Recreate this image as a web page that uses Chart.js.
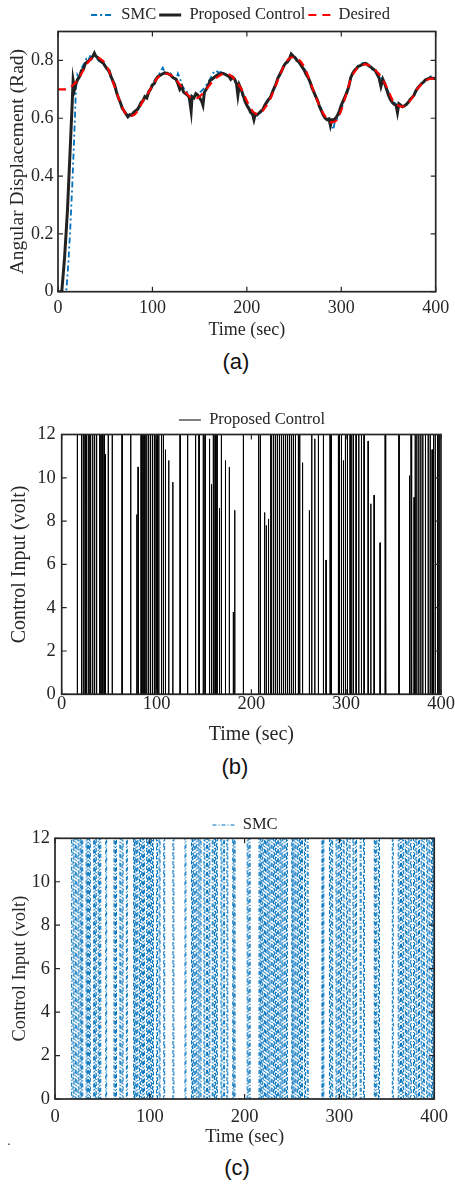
<!DOCTYPE html>
<html>
<head>
<meta charset="utf-8">
<script src="https://cdn.jsdelivr.net/npm/chart.js@4.4.0/dist/chart.umd.min.js"></script>
<style>
  body { margin: 0; width: 455px; height: 1186px; background: #fff; position: relative; overflow: hidden; }
  canvas { position: absolute; left: 0; }
  .cap { position: absolute; width: 100px; text-align: center; line-height: 26px;
         font-family: 'Liberation Sans', Arial, sans-serif; font-size: 22px; color: #111; }
</style>
</head>
<body>
<canvas id="chartA" width="455" height="345" style="top:0px"></canvas>
<div class="cap" style="left:186px;top:349px">(a)</div>
<canvas id="chartB" width="455" height="370" style="top:380px"></canvas>
<div class="cap" style="left:185px;top:754px">(b)</div>
<canvas id="chartC" width="455" height="370" style="top:780px"></canvas>
<div class="cap" style="left:-41px;top:1128px;font-size:12px">.</div>
<div class="cap" style="left:187px;top:1155px">(c)</div>

<script>
/* ---------- data ---------- */
const timeTicks = [0, 100, 200, 300, 400];
const angleTicks = [0, 0.2, 0.4, 0.6, 0.8];
const voltTicks = [0, 2, 4, 6, 8, 10, 12];

// (a) desired trajectory
const desiredTime = [
  0, 5, 10, 15, 20, 25, 30, 35, 40, 45,
  50, 55, 60, 65, 70, 75, 80, 85, 90, 95,
  100, 105, 110, 115, 120, 125, 130, 135, 140, 145,
  150, 155, 160, 165, 170, 175, 180, 185, 190, 195,
  200, 205, 210, 215, 220, 225, 230, 235, 240, 245,
  250, 255, 260, 265, 270, 275, 280, 285, 290, 295,
  300, 305, 310, 315, 320, 325, 330, 335, 340, 345,
  350, 355, 360, 365, 370, 375, 380, 385, 390, 395,
  400
];
const desiredAngle = [
  0.700, 0.700, 0.700, 0.712, 0.728, 0.755, 0.785, 0.805, 0.812, 0.805,
  0.790, 0.755, 0.708, 0.663, 0.625, 0.608, 0.610, 0.628, 0.660, 0.685,
  0.712, 0.738, 0.750, 0.754, 0.748, 0.733, 0.712, 0.690, 0.673, 0.667,
  0.675, 0.692, 0.712, 0.732, 0.745, 0.753, 0.752, 0.742, 0.722, 0.696,
  0.660, 0.630, 0.615, 0.620, 0.640, 0.668, 0.708, 0.750, 0.785, 0.807,
  0.811, 0.803, 0.782, 0.745, 0.700, 0.658, 0.622, 0.598, 0.586, 0.593,
  0.628, 0.680, 0.735, 0.765, 0.780, 0.786, 0.782, 0.770, 0.752, 0.728,
  0.695, 0.658, 0.645, 0.640, 0.650, 0.670, 0.698, 0.718, 0.731, 0.737,
  0.737
];

// (a) proposed control response
const propTime = [
  0, 4, 7, 10, 13, 15, 16, 17.5, 19, 21,
  23, 25, 27, 29, 31, 33, 35, 37, 38.5, 40,
  42, 44, 46, 48, 50, 52, 54, 56, 58, 60,
  62, 64, 66, 68, 70, 72, 74, 76, 78, 80,
  82, 84, 86, 88, 90, 92, 94, 96, 98, 100,
  102, 104, 106, 108, 110, 113, 116, 119, 122, 125,
  127, 129, 131, 133, 135, 137, 139, 141, 142, 144,
  146, 148, 150, 152, 153.5, 155, 157, 159, 161, 163,
  165, 167, 169, 171, 173, 175, 177, 179, 181, 183,
  185, 187, 189, 190.5, 192, 194, 196, 198, 200, 202,
  204, 206, 207.5, 209, 211, 213, 215, 217, 219, 221,
  223, 225, 227, 229, 231, 233, 235, 237, 239, 241,
  243, 245, 247, 249, 251, 253, 255, 257, 259, 261,
  263, 265, 267, 269, 271, 273, 275, 277, 279, 281,
  283, 285, 287, 288.5, 290, 292, 294, 296, 298, 300,
  302, 304, 306, 308, 310, 312, 314, 316, 318, 320,
  322, 324, 326, 328, 330, 332, 334, 336, 338, 340,
  342, 344, 346, 348, 350, 352, 354, 356, 358, 359.5,
  361, 363, 365, 367, 369, 371, 373, 375, 377, 379,
  381, 383, 385, 387, 389, 391, 393, 395, 397, 400
];
const propAngle = [
  0, 0, 0.12, 0.28, 0.50, 0.65, 0.73, 0.70, 0.72, 0.735,
  0.745, 0.765, 0.77, 0.79, 0.795, 0.80, 0.805, 0.815, 0.825, 0.815,
  0.81, 0.80, 0.795, 0.79, 0.78, 0.77, 0.765, 0.745, 0.73, 0.715,
  0.69, 0.67, 0.655, 0.635, 0.625, 0.615, 0.605, 0.612, 0.61, 0.62,
  0.625, 0.63, 0.64, 0.655, 0.66, 0.675, 0.67, 0.69, 0.70, 0.715,
  0.72, 0.735, 0.745, 0.748, 0.752, 0.757, 0.755, 0.75, 0.74, 0.735,
  0.72, 0.70, 0.71, 0.69, 0.685, 0.68, 0.672, 0.625, 0.675, 0.67,
  0.685, 0.68, 0.67, 0.66, 0.645, 0.69, 0.70, 0.712, 0.73, 0.735,
  0.74, 0.745, 0.75, 0.752, 0.755, 0.755, 0.752, 0.748, 0.745, 0.735,
  0.742, 0.735, 0.72, 0.68, 0.715, 0.70, 0.68, 0.66, 0.645, 0.635,
  0.62, 0.615, 0.595, 0.615, 0.612, 0.618, 0.625, 0.63, 0.645, 0.655,
  0.665, 0.672, 0.69, 0.705, 0.72, 0.74, 0.752, 0.765, 0.78, 0.79,
  0.795, 0.805, 0.822, 0.815, 0.81, 0.80, 0.795, 0.785, 0.775, 0.765,
  0.75, 0.74, 0.725, 0.705, 0.69, 0.675, 0.66, 0.64, 0.625, 0.61,
  0.60, 0.595, 0.598, 0.575, 0.595, 0.595, 0.60, 0.61, 0.625, 0.645,
  0.66, 0.675, 0.69, 0.71, 0.74, 0.755, 0.765, 0.772, 0.78, 0.782,
  0.785, 0.788, 0.79, 0.785, 0.78, 0.775, 0.77, 0.765, 0.752, 0.74,
  0.71, 0.735, 0.72, 0.70, 0.68, 0.665, 0.655, 0.648, 0.645, 0.62,
  0.65, 0.645, 0.64, 0.643, 0.648, 0.655, 0.665, 0.672, 0.68, 0.695,
  0.705, 0.712, 0.72, 0.725, 0.732, 0.735, 0.738, 0.74, 0.738, 0.737
];

// (a) SMC response
const smcTime = [
  0, 8, 9, 11, 13, 15, 17, 19, 20.5, 22,
  24, 26, 28, 30, 32, 34, 36, 38, 40, 43,
  46, 49, 52, 55, 58, 61, 64, 67, 70, 73,
  76, 79, 82, 85, 88, 91, 94, 97, 100, 103,
  106, 109, 111, 113, 116, 119, 122, 125, 127, 129,
  131, 134, 137, 140, 143, 146, 149, 152, 155, 158,
  161, 164, 167, 170, 173, 176, 179, 182, 185, 188,
  191, 194, 197, 200, 203, 206, 209, 212, 215, 218,
  221, 224, 227, 230, 233, 236, 239, 242, 245, 248,
  251, 254, 257, 260, 263, 266, 269, 272, 275, 278,
  281, 284, 287, 290, 291.5, 293, 296, 299, 302, 305,
  308, 311, 314, 317, 320, 323, 326, 329, 332, 335,
  338, 341, 344, 347, 350, 353, 356, 359, 362, 365,
  368, 371, 374, 377, 380, 383, 386, 389, 392, 395,
  398, 400
];
const smcAngle = [
  0, 0, 0.01, 0.10, 0.22, 0.36, 0.52, 0.70, 0.75, 0.74,
  0.76, 0.78, 0.79, 0.805, 0.80, 0.815, 0.81, 0.82, 0.81, 0.80,
  0.795, 0.785, 0.77, 0.75, 0.725, 0.70, 0.67, 0.645, 0.625, 0.615,
  0.605, 0.615, 0.62, 0.63, 0.648, 0.66, 0.68, 0.70, 0.72, 0.735,
  0.745, 0.765, 0.775, 0.76, 0.752, 0.755, 0.74, 0.73, 0.755, 0.74,
  0.715, 0.70, 0.69, 0.675, 0.67, 0.672, 0.685, 0.695, 0.705, 0.72,
  0.735, 0.755, 0.765, 0.758, 0.76, 0.755, 0.75, 0.745, 0.74, 0.725,
  0.71, 0.69, 0.665, 0.64, 0.625, 0.61, 0.605, 0.615, 0.62, 0.64,
  0.655, 0.67, 0.69, 0.71, 0.735, 0.755, 0.775, 0.795, 0.81, 0.815,
  0.81, 0.80, 0.79, 0.775, 0.76, 0.735, 0.71, 0.685, 0.66, 0.64,
  0.615, 0.60, 0.59, 0.575, 0.56, 0.585, 0.60, 0.62, 0.65, 0.685,
  0.715, 0.745, 0.765, 0.775, 0.782, 0.792, 0.79, 0.78, 0.77, 0.765,
  0.765, 0.75, 0.73, 0.71, 0.69, 0.67, 0.655, 0.645, 0.64, 0.64,
  0.648, 0.655, 0.665, 0.68, 0.695, 0.71, 0.722, 0.73, 0.742, 0.745,
  0.74, 0.735
];

// (b) proposed control input: switching instants and peak voltage
const propPulseTime = [
  16.3, 20.7, 22.5, 24.3, 25.5, 27.8, 29.5, 30.5, 32.5, 34.5,
  36.6, 40.1, 42.3, 44.5, 45.9, 48.9, 53.1, 63.5, 72.6, 79,
  80.4, 83.6, 85.5, 87.5, 89.5, 91.5, 93.5, 95.5, 97.5, 99.4,
  100.8, 102.2, 105, 107, 109.2, 112.7, 117, 124.7, 132.6, 141,
  144.6, 149.1, 151, 155.7, 157.8, 159.7, 161.6, 163.5, 166.2, 168.2,
  172.5, 176.6, 180.8, 182.3, 191.4, 207.5, 209.3, 213.8, 215.6, 217.9,
  220.5, 223, 225.1, 227.2, 229.4, 231.5, 233.6, 235.7, 237.8, 239.9,
  242, 244.1, 246.3, 249.4, 250.8, 253.8, 261, 263.5, 266.7, 270.5,
  275.8, 278.6, 282.8, 283.9, 291.6, 292.7, 294.8, 296.9, 299, 301.1,
  304, 305.7, 307.5, 310.3, 313.1, 315.9, 318.7, 323, 325.8, 329.3,
  335.6, 340.9, 341.6, 355.5, 366.6, 368.2, 369, 371.5, 372.6, 374.3,
  376.4, 378.5, 380.6, 383.4, 386.3, 388.4, 390.5, 391.9, 393.7, 396.5,
  398.5
];
const propPulseVolt = [
  12, 12, 12, 12, 12, 12, 12, 12, 12, 12,
  12, 12, 12, 12, 11.1, 12, 12, 12, 12, 8.3,
  10.5, 12, 12, 12, 12, 12, 12, 12, 12, 12,
  12, 12, 12, 12, 11.3, 10.8, 9.8, 12, 12, 12,
  12, 12, 12, 11.8, 9.7, 12, 12, 12, 8.6, 12,
  10.8, 10.5, 3.8, 8.5, 12, 12, 12, 8.4, 7.8, 8.1,
  12, 12, 12, 12, 12, 12, 12, 12, 12, 12,
  12, 12, 12, 12, 12, 10.7, 8.5, 12, 11.8, 12,
  12, 6.2, 12, 12, 12, 12, 12, 10.8, 12, 12,
  12, 12, 12, 12, 12, 12, 12, 11.7, 8.8, 9.2,
  7.0, 12, 12, 12, 10.1, 12, 8.8, 9.1, 12, 12,
  12, 12, 12, 12, 12, 12, 11.3, 12, 12, 12,
  12
];

// (c) SMC control input: switching instants (all saturate at 12 V)
const smcPulseTime = [
  19, 21.4, 24.2, 26.6, 28.3, 32.8, 34.5, 36.3, 40.8, 42.5,
  45.6, 47.3, 53.5, 62.2, 63.9, 68.4, 70.8, 75.3, 82.9, 84.6,
  86.4, 89.1, 91.5, 93.3, 96.7, 98.8, 100.9, 102.9, 107.1, 109.8,
  114.7, 124.4, 137.1, 144, 145.9, 148.5, 150.9, 153, 157.1, 159.9,
  162.3, 165.8, 168.2, 170.3, 175.1, 177.9, 181.3, 187.5, 188.9, 202.7,
  204.8, 215.2, 216.6, 218.6, 221.1, 223.5, 225.6, 228, 230.4, 232.5,
  234.9, 237.3, 239.4, 241.8, 244.2, 249.7, 251.1, 253.2, 255.6, 258,
  260.1, 263.2, 266, 281.5, 282.6, 289.5, 291.9, 296.4, 298.8, 301.2,
  304, 307.4, 310.2, 314.3, 317.1, 321.9, 325.4, 336.8, 338.5, 341.3,
  355.8, 362, 364.4, 366.8, 369.6, 372.3, 374.8, 378.2, 380.7, 383.4,
  386.2, 388.6, 392.1, 394.5, 397.2, 398.9
];
const smcSaturation = 12;
const smcInitialHoldEnd = 17.5;

/* ---------- styling ---------- */
Chart.defaults.font.family = "'Liberation Serif', 'Times New Roman', serif";
Chart.defaults.color = '#262626';
Chart.defaults.animation = false;

const INK = '#262626';
const SMC_BLUE = '#0072BD';

// MATLAB-like box: frame + inward ticks on all four sides, legend nudge
const axesBox = {
  id: 'axesBox',
  afterLayout(chart, args, opts) {
    if (chart.legend && opts.legendShift) {
      chart.legend.left += opts.legendShift;
      chart.legend.right += opts.legendShift;
    }
  },
  afterDatasetsDraw(chart) {
    const { ctx, chartArea: a, scales: { x, y } } = chart;
    ctx.save();
    ctx.strokeStyle = INK;
    ctx.lineWidth = 1.2;
    ctx.setLineDash([]);
    ctx.beginPath();
    x.ticks.forEach(t => {
      const px = x.getPixelForValue(t.value);
      ctx.moveTo(px, a.bottom); ctx.lineTo(px, a.bottom - 5);
      ctx.moveTo(px, a.top); ctx.lineTo(px, a.top + 5);
    });
    y.ticks.forEach(t => {
      const py = y.getPixelForValue(t.value);
      ctx.moveTo(a.left, py); ctx.lineTo(a.left + 5, py);
      ctx.moveTo(a.right, py); ctx.lineTo(a.right - 5, py);
    });
    ctx.stroke();
    ctx.lineWidth = 1.7;
    ctx.strokeRect(a.left, a.top, a.right - a.left, a.bottom - a.top);
    ctx.restore();
  }
};

function xy(ts, vs) {
  return ts.map((t, i) => ({ x: t, y: vs[i] }));
}

function pulses(times, volts, width, lead) {
  const pts = lead.slice();
  times.forEach((t, i) => {
    pts.push({ x: t, y: 0 }, { x: t, y: volts[i] }, { x: t + width, y: volts[i] }, { x: t + width, y: 0 });
  });
  pts.push({ x: 400, y: 0 });
  return pts;
}

function axes(p) {
  return {
    x: {
      type: 'linear', min: 0, max: 400,
      grid: { display: false, drawTicks: false }, border: { display: false },
      afterBuildTicks: s => { s.ticks = timeTicks.map(v => ({ value: v })); },
      afterFit: s => { s.height = p.xHeight; },
      ticks: { font: { size: p.tickSize }, padding: p.xPad, maxRotation: 0, color: INK },
      title: { display: true, text: 'Time (sec)', font: { size: p.xTitleSize }, padding: { top: 0, bottom: p.xTitlePad }, color: INK }
    },
    y: {
      type: 'linear', min: 0, max: p.yMax,
      grid: { display: false, drawTicks: false }, border: { display: false },
      afterBuildTicks: s => { s.ticks = p.yTicks.map(v => ({ value: v })); },
      afterFit: s => { s.width = p.yWidth; },
      ticks: { font: { size: p.tickSize }, padding: p.yPad, color: INK },
      title: { display: true, text: p.yTitle, font: { size: p.yTitleSize }, padding: { top: p.yTitlePad, bottom: 0 }, color: INK }
    }
  };
}

// legend swatches take the dataset's own line style (dash, width, colour)
function lineLabels(chart) {
  return Chart.defaults.plugins.legend.labels.generateLabels(chart).map(item => {
    const ds = chart.data.datasets[item.datasetIndex];
    item.lineDash = ds.borderDash || [];
    item.lineWidth = ds.borderWidth;
    item.strokeStyle = ds.borderColor;
    return item;
  });
}

function legendOpts(maxHeight) {
  return {
    display: true,
    position: 'top',
    maxHeight: maxHeight,
    labels: {
      usePointStyle: true, pointStyle: 'line', pointStyleWidth: 22,
      padding: 3, color: INK, font: { size: 16.5 },
      generateLabels: lineLabels,
      sort: (a, b) => a.datasetIndex - b.datasetIndex
    }
  };
}

/* ---------- (a) angular displacement ---------- */
new Chart(document.getElementById('chartA'), {
  type: 'line',
  data: {
    datasets: [
      { label: 'SMC', data: xy(smcTime, smcAngle), borderColor: SMC_BLUE, backgroundColor: SMC_BLUE,
        borderWidth: 1.8, borderDash: [6, 3, 2, 3], pointRadius: 0, order: 3 },
      { label: 'Proposed Control', data: xy(propTime, propAngle), borderColor: '#222222', backgroundColor: '#222222',
        borderWidth: 3, pointRadius: 0, order: 2 },
      { label: 'Desired', data: xy(desiredTime, desiredAngle), borderColor: '#FF0000', backgroundColor: '#FF0000',
        borderWidth: 2.2, borderDash: [8, 6], cubicInterpolationMode: 'monotone', pointRadius: 0, order: 1 }
    ]
  },
  options: {
    responsive: false,
    layout: { padding: { top: 3.75, right: 14, left: 0, bottom: 0 } },
    scales: axes({ xHeight: 53.3, yWidth: 58, yMax: 0.9, yTicks: angleTicks, tickSize: 18, xPad: 5.8, yPad: 4.5,
                   xTitleSize: 18, xTitlePad: 3.5, yTitle: 'Angular Displacement (Rad)', yTitleSize: 19.5, yTitlePad: 6.3 }),
    plugins: { legend: legendOpts(27.75), tooltip: { enabled: false }, axesBox: { legendShift: 20 } }
  },
  plugins: [axesBox]
});

/* ---------- (b) proposed control input ---------- */
new Chart(document.getElementById('chartB'), {
  type: 'line',
  data: {
    datasets: [
      { label: 'Proposed Control', data: pulses(propPulseTime, propPulseVolt, 0.35, [{ x: 0, y: 0 }]),
        borderColor: '#000000', backgroundColor: '#000000', borderWidth: 1, pointRadius: 0 }
    ]
  },
  options: {
    responsive: false,
    layout: { padding: { top: 28.75, right: 14, left: 0, bottom: 0 } },
    scales: axes({ xHeight: 55.7, yWidth: 61.7, yMax: 12, yTicks: voltTicks, tickSize: 18.5, xPad: -1, yPad: 6,
                   xTitleSize: 20, xTitlePad: 3, yTitle: 'Control Input (volt)', yTitleSize: 20, yTitlePad: 7.5 }),
    plugins: { legend: legendOpts(25.75), tooltip: { enabled: false }, axesBox: { legendShift: 31.5 } }
  },
  plugins: [axesBox]
});

/* ---------- (c) SMC control input ---------- */
new Chart(document.getElementById('chartC'), {
  type: 'line',
  data: {
    datasets: [
      { label: 'SMC',
        data: pulses(smcPulseTime, smcPulseTime.map(() => smcSaturation), 1.0,
                     [{ x: 0, y: smcSaturation }, { x: smcInitialHoldEnd, y: smcSaturation }, { x: smcInitialHoldEnd, y: 0 }]),
        borderColor: SMC_BLUE, backgroundColor: SMC_BLUE, borderWidth: 1, borderDash: [4, 2, 1, 2], pointRadius: 0 }
    ]
  },
  options: {
    responsive: false,
    layout: { padding: { top: 33.75, right: 14, left: 0, bottom: 0 } },
    scales: axes({ xHeight: 51, yWidth: 55, yMax: 12, yTicks: voltTicks, tickSize: 18.5, xPad: 6.9, yPad: 5,
                   xTitleSize: 18.5, xTitlePad: 2.2, yTitle: 'Control Input (volt)', yTitleSize: 18.5, yTitlePad: 9.4 }),
    plugins: { legend: legendOpts(24.55), tooltip: { enabled: false }, axesBox: { legendShift: 24.5 } }
  },
  plugins: [axesBox]
});
</script>
</body>
</html>
